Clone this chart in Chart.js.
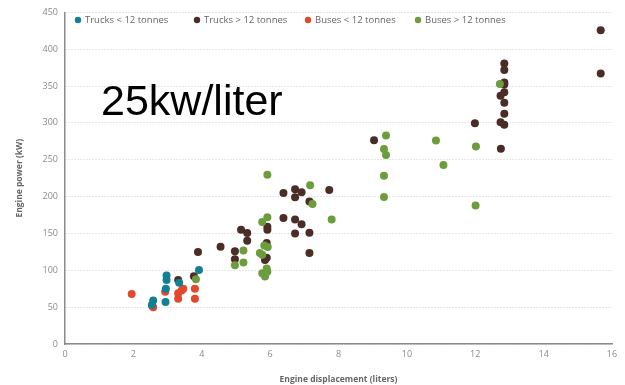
<!DOCTYPE html>
<html>
<head>
    <meta charset="utf-8">
    <script src="https://cdn.jsdelivr.net/npm/chart.js"></script>
    <style>
        body { margin: 0; background: #fff; }
        #wrap { width: 625px; height: 385px; }
    </style>
</head>
<body>
<div id="wrap"><canvas id="engineChart" width="625" height="385"></canvas></div>

<script>
// series names, in legend order
var seriesNames = ['Trucks < 12 tonnes', 'Trucks > 12 tonnes', 'Buses < 12 tonnes', 'Buses > 12 tonnes']
var seriesColors = ['#137f93', '#4b2d27', '#e2482b', '#6c9d3d']

// engine displacement (liters) and power (kW)
var trucksSmallX = [2.58, 2.54, 2.97, 2.97, 2.95, 2.94, 3.34, 3.92]
var trucksSmallY = [59, 53, 93, 87, 75, 57, 83, 100.5]

var trucksLargeX = [3.31, 3.77, 3.89, 4.55, 4.97, 4.97, 5.15, 5.33, 5.33, 5.9, 5.92, 5.92, 5.9, 5.85,
    6.39, 6.39, 6.73, 6.73, 6.92, 7.73, 7.15, 6.73, 6.92, 6.73, 7.15, 7.15, 9.04, 11.99, 12.75,
    12.85, 12.85, 12.85, 12.85, 12.85, 12.74, 12.85, 12.85, 12.74, 12.85, 15.67, 15.67]
var trucksLargeY = [87, 92, 124.8, 132, 125.7, 115, 155, 150.5, 140, 137, 159, 155, 117, 114,
    205, 171, 210, 199, 206, 209, 193.4, 169, 162.4, 150, 151, 123.5, 276.5, 299.6, 265,
    380.6, 371.7, 355, 352, 341.6, 337, 327.5, 312.4, 301, 297.4, 425.7, 367]

var busesSmallX = [1.95, 2.58, 2.55, 2.93, 3.31, 3.46, 3.41, 3.31, 3.80, 3.80]
var busesSmallY = [68, 50, 52, 71, 69, 75, 72.6, 61.5, 75, 61.5]

var busesLargeX = [3.83, 4.97, 5.22, 5.22, 5.92, 5.92, 5.77, 5.83, 5.93, 5.70, 5.77, 5.77, 5.9, 5.85,
    5.92, 7.17, 7.24, 7.8, 9.39, 9.33, 9.39, 9.33, 9.33, 10.85, 11.07, 12.02, 12.01, 12.72]
var busesLargeY = [88, 107, 127, 110.6, 229.7, 172, 165.5, 133.7, 131.5, 123.5, 121, 96, 102.6, 91.6,
    98, 215.5, 190, 169, 283, 264.6, 256.6, 228.3, 199.5, 276, 243, 268, 188, 353]

var xTicks = [0, 2, 4, 6, 8, 10, 12, 14, 16]
var yTicks = [0, 50, 100, 150, 200, 250, 300, 350, 400, 450]

function toPoints(xs, ys) {
    var pts = []
    for (var i = 0; i < xs.length; i++) {
        pts.push({ x: xs[i], y: ys[i] })
    }
    return pts
}

var allX = [trucksSmallX, trucksLargeX, busesSmallX, busesLargeX]
var allY = [trucksSmallY, trucksLargeY, busesSmallY, busesLargeY]
// brown drawn underneath, the others on top of it
var drawOrder = [1, 4, 3, 2]

var datasets = []
for (var s = 0; s < seriesNames.length; s++) {
    datasets.push({
        label: seriesNames[s],
        data: toPoints(allX[s], allY[s]),
        backgroundColor: seriesColors[s],
        borderColor: seriesColors[s],
        borderWidth: 0,
        pointRadius: 4,
        order: drawOrder[s]
    })
}

// legend inside the plot + the big label, drawn on the canvas
var overlayPlugin = {
    id: 'overlay',
    afterDraw: function(chart) {
        var ctx = chart.ctx
        ctx.save()
        var legendX = [78, 197, 308, 418]
        ctx.font = '9.5px "Open Sans"'
        ctx.textBaseline = 'middle'
        for (var i = 0; i < seriesNames.length; i++) {
            ctx.fillStyle = seriesColors[i]
            ctx.beginPath()
            ctx.arc(legendX[i], 20, 3.2, 0, Math.PI * 2)
            ctx.fill()
            ctx.fillStyle = '#666'
            ctx.fillText(seriesNames[i], legendX[i] + 7, 20)
        }
        ctx.fillStyle = '#000'
        ctx.font = '43px "Liberation Sans", Arial'
        ctx.textBaseline = 'alphabetic'
        ctx.fillText('25kw/liter', 101, 115)
        ctx.restore()
    }
}

var ctx = document.getElementById('engineChart').getContext('2d')
var myScatter = new Chart(ctx, {
    type: 'scatter',
    data: { datasets: datasets },
    plugins: [overlayPlugin],
    options: {
        responsive: false,
        animation: false,
        layout: { padding: { left: 0, right: 13, top: 5, bottom: 0 } },
        plugins: {
            legend: { display: false },
            tooltip: { enabled: false }
        },
        scales: {
            x: {
                type: 'linear',
                min: 0,
                max: 16,
                afterBuildTicks: function(axis) {
                    axis.ticks = xTicks.map(function(v) { return { value: v } })
                },
                afterFit: function(axis) { axis.height = 41 },
                grid: { display: false, drawTicks: false },
                border: { display: true, color: '#8a8a8a', width: 1.5 },
                ticks: { color: '#8a8a8a', font: { family: 'Open Sans', size: 9 }, padding: 5, maxRotation: 0 },
                title: {
                    display: true,
                    text: 'Engine displacement (liters)',
                    color: '#666',
                    font: { family: 'Open Sans', size: 8.5, weight: 'bold' },
                    padding: { top: 8, bottom: 0 }
                }
            },
            y: {
                type: 'linear',
                min: 0,
                max: 450,
                afterBuildTicks: function(axis) {
                    axis.ticks = yTicks.map(function(v) { return { value: v } })
                },
                afterFit: function(axis) { axis.width = 65 },
                grid: { color: '#cfcfcf', lineWidth: 1, drawTicks: false },
                border: { display: true, color: '#8a8a8a', width: 1.5, dash: [1, 2] },
                ticks: { color: '#8a8a8a', font: { family: 'Open Sans', size: 9 }, padding: 7 },
                title: {
                    display: true,
                    text: 'Engine power (kW)',
                    color: '#666',
                    font: { family: 'Open Sans', size: 8.5, weight: 'bold' },
                    padding: { top: 14, bottom: 0 }
                }
            }
        }
    }
});
</script>
</body>
</html>
